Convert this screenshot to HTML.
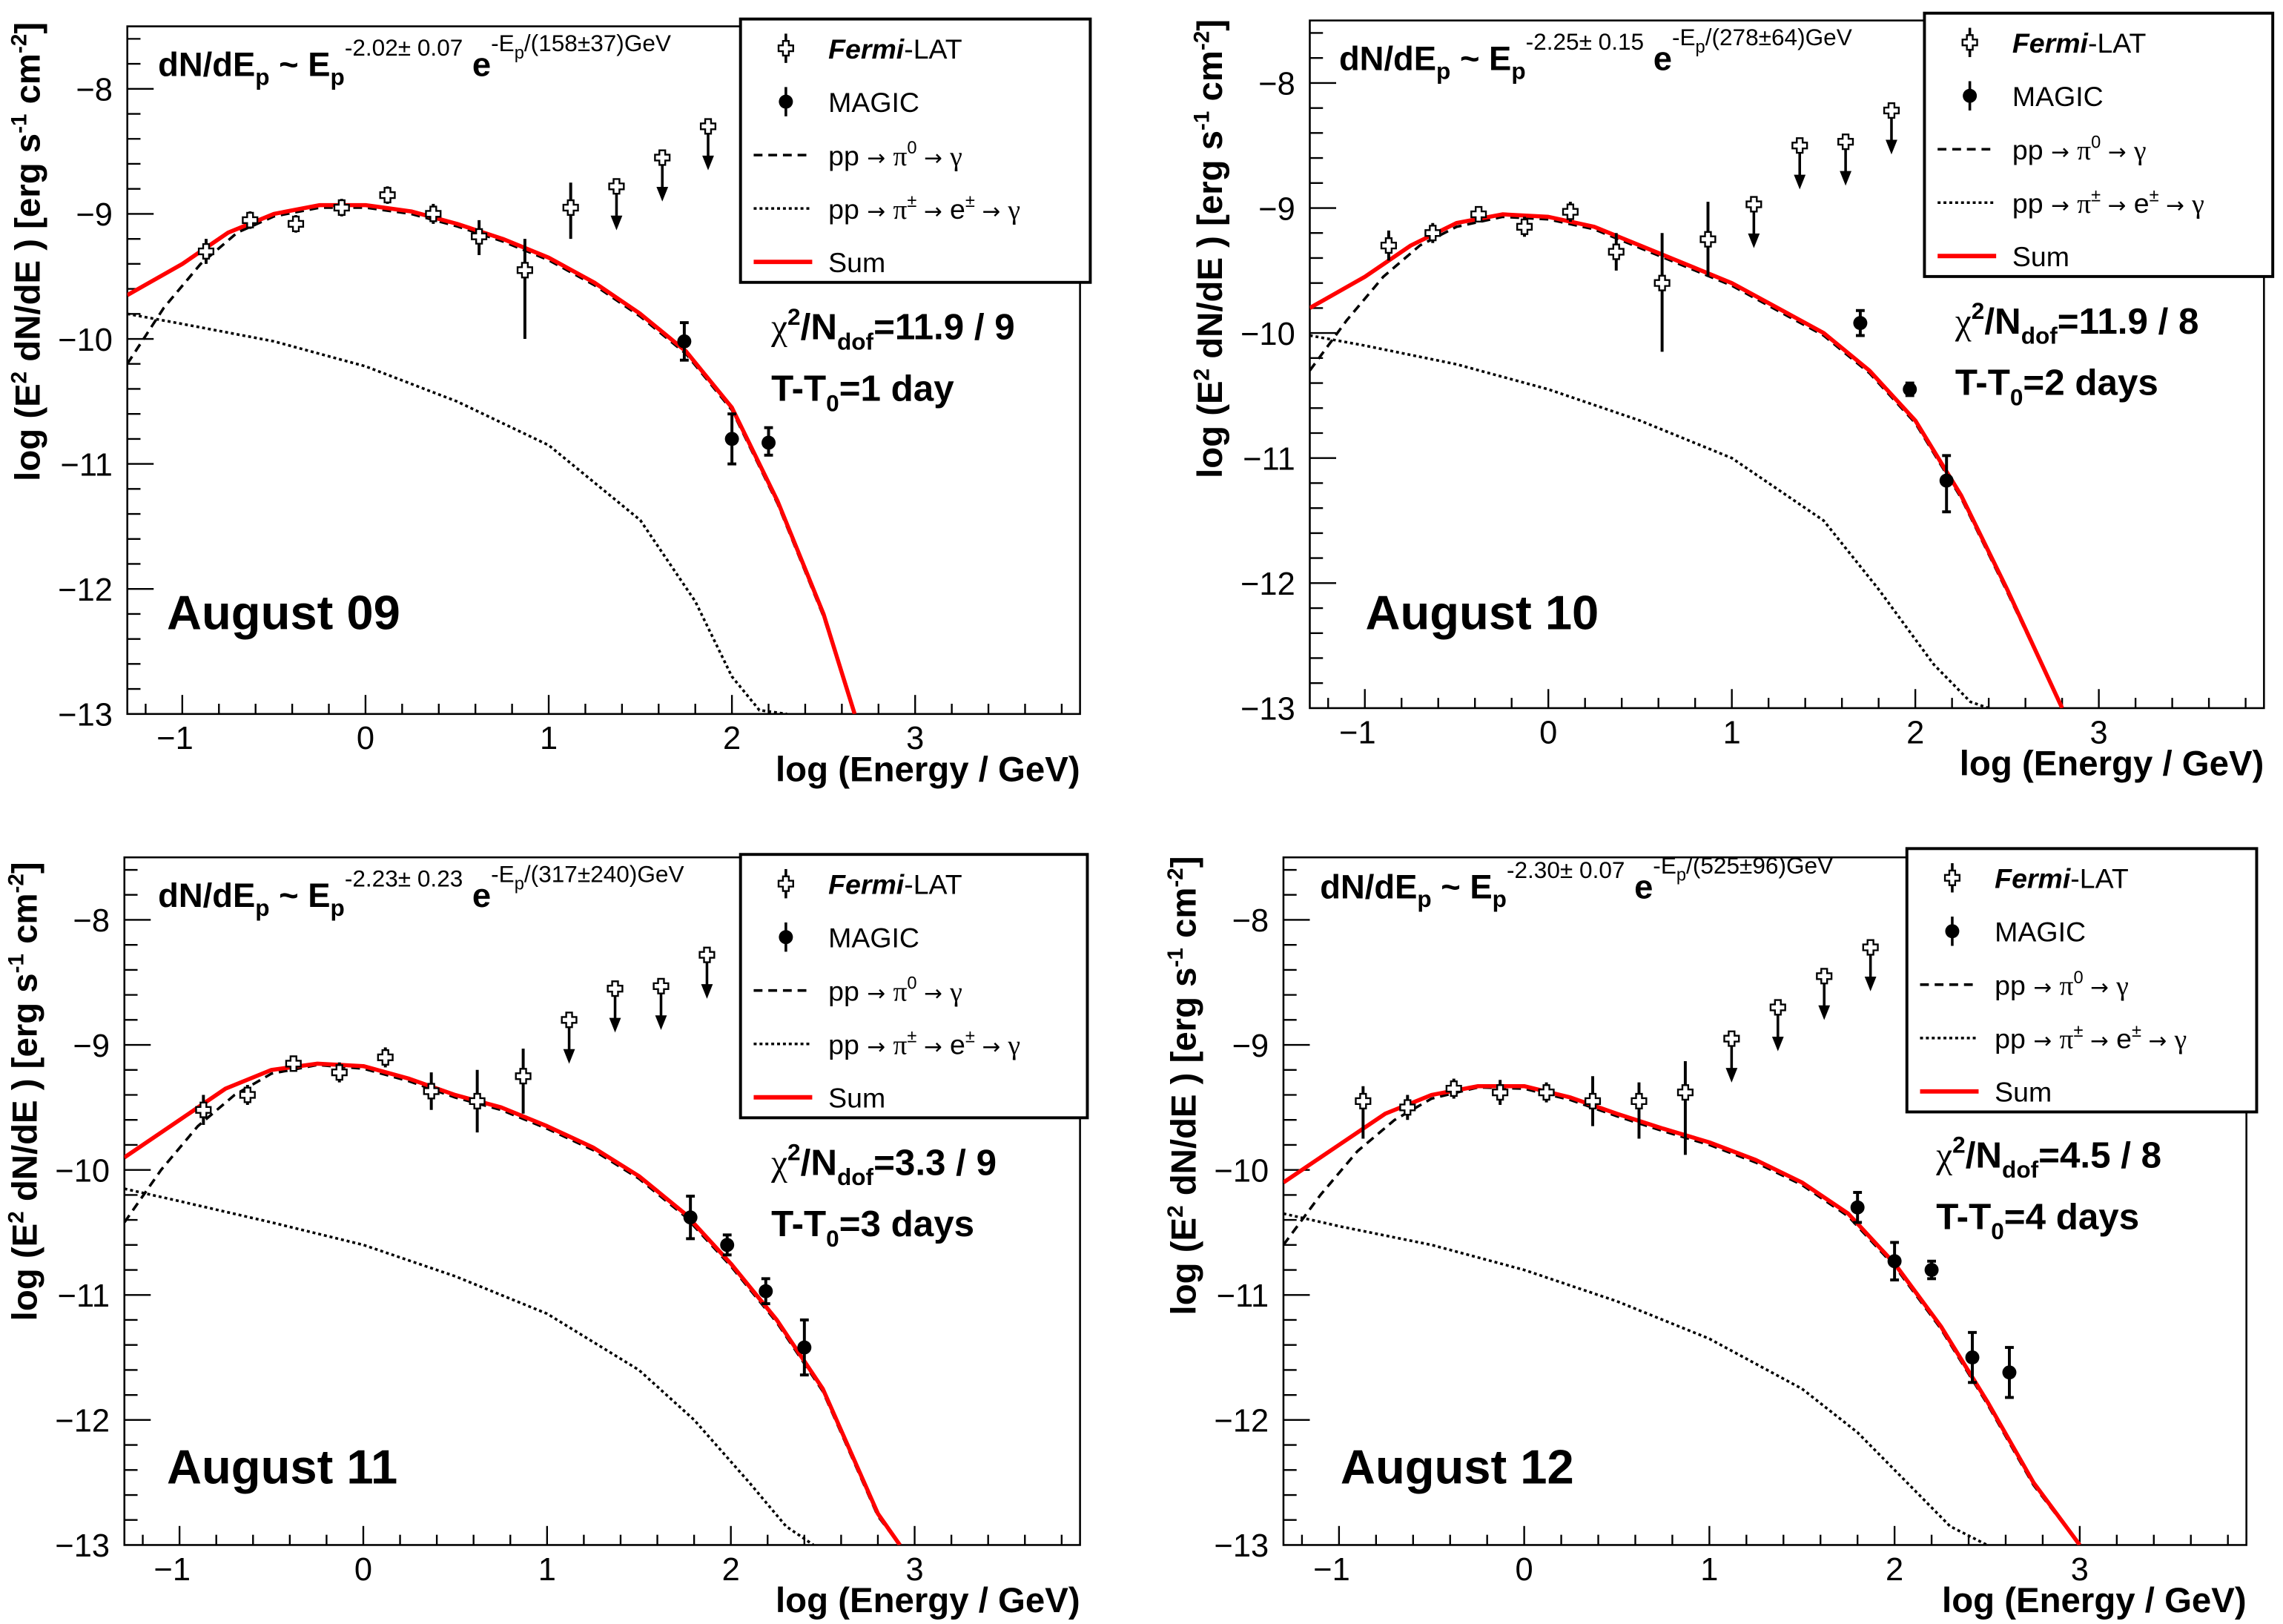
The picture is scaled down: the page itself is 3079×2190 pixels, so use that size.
<!DOCTYPE html>
<html><head><meta charset="utf-8"><style>
html,body{margin:0;padding:0;background:#fff}
svg{display:block}
text{font-family:"Liberation Sans",sans-serif;fill:#000}
</style></head><body>
<svg id="chart" width="3079" height="2190" viewBox="0 0 1560 1110" preserveAspectRatio="none" xmlns="http://www.w3.org/2000/svg"></svg>
<script>
// ---- data (log E [GeV], log E2dN/dE) ----
const panelNames = ["August 09","August 10","August 11","August 12"];
const idxVals = ["-2.02± 0.07","-2.25± 0.15","-2.23± 0.23","-2.30± 0.07"];
const cutVals = ["(158±37)GeV","(278±64)GeV","(317±240)GeV","(525±96)GeV"];
const chiVals = ["=11.9 / 9","=11.9 / 8","=3.3 / 9","=4.5 / 8"];
const dayVals = ["=1 day","=2 days","=3 days","=4 days"];
const xTicks = [-1,0,1,2,3];
const yTicks = [-8,-9,-10,-11,-12,-13];
// fermi points: [x, y, errDown, errUp]
const fermi1 = [[-0.87,-9.3,0.1,0.1],[-0.63,-9.05,0.07,0.07],[-0.38,-9.08,0.07,0.07],[-0.13,-8.95,0.07,0.07],[0.12,-8.85,0.07,0.07],[0.37,-9.0,0.08,0.08],[0.62,-9.18,0.15,0.13],[0.87,-9.45,0.55,0.25],[1.12,-8.95,0.25,0.2]];
const fermi2 = [[-0.87,-9.3,0.12,0.12],[-0.63,-9.2,0.08,0.08],[-0.38,-9.05,0.06,0.06],[-0.13,-9.15,0.08,0.08],[0.12,-9.03,0.08,0.08],[0.37,-9.35,0.15,0.15],[0.62,-9.6,0.55,0.4],[0.87,-9.25,0.3,0.3]];
const fermi3 = [[-0.87,-9.52,0.12,0.12],[-0.63,-9.4,0.08,0.08],[-0.38,-9.15,0.06,0.06],[-0.13,-9.22,0.08,0.08],[0.12,-9.1,0.08,0.08],[0.37,-9.37,0.15,0.15],[0.62,-9.45,0.25,0.25],[0.87,-9.25,0.3,0.22]];
const fermi4 = [[-0.87,-9.45,0.3,0.12],[-0.63,-9.5,0.1,0.1],[-0.38,-9.35,0.08,0.08],[-0.13,-9.38,0.1,0.1],[0.12,-9.38,0.08,0.08],[0.37,-9.45,0.2,0.2],[0.62,-9.45,0.3,0.15],[0.87,-9.38,0.5,0.25]];
// upper limits: [x, y]
const ul1 = [[1.37,-8.78],[1.62,-8.55],[1.87,-8.3]];
const ul2 = [[1.12,-8.97],[1.37,-8.5],[1.62,-8.47],[1.87,-8.22]];
const ul3 = [[1.12,-8.8],[1.37,-8.55],[1.62,-8.53],[1.87,-8.28]];
const ul4 = [[1.12,-8.95],[1.37,-8.7],[1.62,-8.45],[1.87,-8.22]];
// MAGIC: [x, y, errDown, errUp]
const magic1 = [[1.74,-10.02,0.15,0.15],[2.0,-10.8,0.2,0.2],[2.2,-10.83,0.1,0.12]];
const magic2 = [[1.7,-9.92,0.1,0.1],[1.97,-10.45,0.05,0.05],[2.17,-11.18,0.25,0.2]];
const magic3 = [[1.78,-10.38,0.17,0.17],[1.98,-10.6,0.08,0.08],[2.19,-10.97,0.1,0.1],[2.4,-11.42,0.22,0.22]];
const magic4 = [[1.8,-10.3,0.12,0.12],[2.0,-10.73,0.15,0.15],[2.2,-10.8,0.07,0.07],[2.42,-11.5,0.2,0.2],[2.62,-11.62,0.2,0.2]];
// curves: sum
const sum1 = [[-1.3,-9.65],[-1,-9.4],[-0.75,-9.15],[-0.5,-9.0],[-0.25,-8.93],[0,-8.93],[0.25,-8.98],[0.5,-9.08],[0.75,-9.2],[1,-9.35],[1.25,-9.55],[1.5,-9.8],[1.75,-10.1],[2,-10.55],[2.25,-11.3],[2.5,-12.2],[2.67,-13]];
const sum2 = [[-1.3,-9.8],[-1,-9.55],[-0.75,-9.3],[-0.5,-9.12],[-0.25,-9.05],[0,-9.07],[0.25,-9.15],[0.5,-9.3],[0.75,-9.45],[1,-9.6],[1.25,-9.8],[1.5,-10.0],[1.75,-10.3],[2,-10.7],[2.25,-11.3],[2.5,-12.05],[2.8,-13]];
const sum3 = [[-1.3,-9.9],[-1,-9.6],[-0.75,-9.35],[-0.5,-9.2],[-0.25,-9.15],[0,-9.17],[0.25,-9.27],[0.5,-9.4],[0.75,-9.5],[1,-9.65],[1.25,-9.82],[1.5,-10.05],[1.75,-10.35],[2,-10.75],[2.25,-11.2],[2.5,-11.75],[2.8,-12.75],[2.92,-13]];
const sum4 = [[-1.3,-10.1],[-1,-9.8],[-0.75,-9.55],[-0.5,-9.4],[-0.25,-9.33],[0,-9.33],[0.25,-9.42],[0.5,-9.55],[0.75,-9.67],[1,-9.78],[1.25,-9.92],[1.5,-10.1],[1.75,-10.35],[2,-10.75],[2.25,-11.25],[2.5,-11.85],[2.75,-12.5],[3.0,-13]];
// pi0 component
const pi01 = [[-1.3,-10.2],[-1.1,-9.75],[-0.9,-9.4],[-0.7,-9.15],[-0.5,-9.02],[-0.25,-8.95],[0,-8.95],[0.25,-9.0],[0.5,-9.1],[0.75,-9.22],[1,-9.37],[1.25,-9.57],[1.5,-9.82],[1.75,-10.12],[2,-10.57],[2.25,-11.32],[2.5,-12.22],[2.67,-13]];
const pi02 = [[-1.3,-10.3],[-1.1,-9.9],[-0.9,-9.55],[-0.7,-9.3],[-0.5,-9.15],[-0.25,-9.07],[0,-9.09],[0.25,-9.17],[0.5,-9.32],[0.75,-9.47],[1,-9.62],[1.25,-9.82],[1.5,-10.02],[1.75,-10.32],[2,-10.72],[2.25,-11.32],[2.5,-12.07],[2.8,-13]];
const pi03 = [[-1.3,-10.42],[-1.1,-10.0],[-0.9,-9.65],[-0.7,-9.4],[-0.5,-9.23],[-0.25,-9.16],[0,-9.19],[0.25,-9.29],[0.5,-9.42],[0.75,-9.52],[1,-9.67],[1.25,-9.84],[1.5,-10.07],[1.75,-10.37],[2,-10.77],[2.25,-11.22],[2.5,-11.77],[2.8,-12.77],[2.92,-13]];
const pi04 = [[-1.3,-10.6],[-1.1,-10.2],[-0.9,-9.85],[-0.7,-9.6],[-0.5,-9.43],[-0.25,-9.34],[0,-9.35],[0.25,-9.44],[0.5,-9.57],[0.75,-9.69],[1,-9.8],[1.25,-9.94],[1.5,-10.12],[1.75,-10.37],[2,-10.77],[2.25,-11.27],[2.5,-11.87],[2.75,-12.52],[3.0,-13]];
// secondary e± component
const sec1 = [[-1.3,-9.8],[-1,-9.88],[-0.5,-10.02],[0,-10.22],[0.5,-10.5],[1,-10.85],[1.5,-11.45],[1.8,-12.1],[2.0,-12.7],[2.15,-12.97],[2.3,-13.0]];
const sec2 = [[-1.3,-10.02],[-1,-10.1],[-0.5,-10.25],[0,-10.45],[0.5,-10.7],[1,-11.0],[1.5,-11.5],[1.8,-12.05],[2.1,-12.65],[2.3,-12.95],[2.4,-13.0]];
const sec3 = [[-1.3,-10.15],[-1,-10.25],[-0.5,-10.42],[0,-10.6],[0.5,-10.85],[1,-11.15],[1.5,-11.6],[1.8,-12.0],[2.1,-12.5],[2.3,-12.85],[2.45,-13.0]];
const sec4 = [[-1.3,-10.35],[-1,-10.45],[-0.5,-10.6],[0,-10.8],[0.5,-11.05],[1,-11.35],[1.5,-11.75],[1.8,-12.1],[2.1,-12.55],[2.3,-12.85],[2.5,-13.0]];

const fermiAll=[fermi1,fermi2,fermi3,fermi4], ulAll=[ul1,ul2,ul3,ul4], magicAll=[magic1,magic2,magic3,magic4];
const sumAll=[sum1,sum2,sum3,sum4], pi0All=[pi01,pi02,pi03,pi04], secAll=[sec1,sec2,sec3,sec4];

const frames=[{l:87,t:18,r:738,b:488,lg:[506,13,745,193],chi:[527,232],form:[108,52],aug:[114,430],yt:172},
              {l:895,t:14,r:1547,b:484,lg:[1315,9,1553,189],chi:[1336,228],form:[915,48],aug:[933,430],yt:170},
              {l:85,t:586,r:738,b:1056,lg:[506,584,743,764],chi:[527,803],form:[108,620],aug:[114,1014],yt:746},
              {l:877,t:586,r:1535,b:1056,lg:[1303,580,1542,760],chi:[1323,798],form:[902,614],aug:[916,1014],yt:742}];
const XMIN=-1.3,XMAX=3.9,YMIN=-13,YMAX=-7.5;
const svg=document.getElementById('chart');
const NS='http://www.w3.org/2000/svg';
function mk(tag,attrs,parent){const e=document.createElementNS(NS,tag);for(const k in attrs)e.setAttribute(k,attrs[k]);(parent||svg).appendChild(e);return e;}

frames.forEach((f,p)=>{
  const sx=v=>f.l+(v-XMIN)/(XMAX-XMIN)*(f.r-f.l);
  const sy=v=>f.b-(v-YMIN)/(YMAX-YMIN)*(f.b-f.t);
  const g=mk('g',{});
  
  
  const clipId='clip'+p;
  const cp=mk('clipPath',{id:clipId},g);mk('rect',{x:f.l,y:f.t,width:f.r-f.l,height:f.b-f.t},cp);
  const fr=mk('rect',{x:f.l,y:f.t,width:f.r-f.l,height:f.b-f.t,fill:'none',stroke:'#000','stroke-width':1.3},g);
  
  
  for(let v=-1.2;v<=3.81;v+=0.2){const x=sx(Math.round(v*10)/10);const major=Math.abs(Math.round(v*10)/10-Math.round(v))<1e-6;
    mk('line',{x1:x,x2:x,y1:f.b,y2:f.b-(major?13:7),stroke:'#000','stroke-width':1.2},g);}
  for(let v=-12.8;v<=-7.6;v+=0.2){const y=sy(Math.round(v*10)/10);const major=Math.abs(Math.round(v*10)/10-Math.round(v))<1e-6;
    mk('line',{x1:f.l,x2:f.l+(major?18:9),y1:y,y2:y,stroke:'#000','stroke-width':1.2},g);}
  xTicks.forEach(v=>{const t=mk('text',{x:sx(v)-(v<0?5:0),y:f.b+24,'font-size':22,'text-anchor':'middle'},g);t.textContent=(v<0?'\u2212':'')+Math.abs(v);
    
    });
  yTicks.forEach(v=>{const t=mk('text',{x:f.l-10,y:sy(v)+8,'font-size':22,'text-anchor':'end'},g);t.textContent='\u2212'+Math.abs(v);
    
    });
  const xt=mk('text',{x:f.r,y:f.b+46,'font-size':24,'font-weight':'bold','text-anchor':'end'},g);
  xt.textContent='log (Energy / GeV)';
  
  
  const yx=f.l-60;
  const yt=mk('text',{x:yx,y:f.yt,'font-size':24,'font-weight':'bold','text-anchor':'middle',transform:`rotate(-90 ${yx} ${f.yt})`},g);
  yt.innerHTML='log (E<tspan dy="-9" font-size="15">2</tspan><tspan dy="9"> dN/dE ) [erg s</tspan><tspan dy="-9" font-size="15">-1</tspan><tspan dy="9"> cm</tspan><tspan dy="-9" font-size="15">-2</tspan><tspan dy="9">]</tspan>';
  
  
  const cg=mk('g',{'clip-path':`url(#${clipId})`},g);
  const path=arr=>arr.map((d,i)=>(i?'L':'M')+sx(d[0]).toFixed(1)+' '+sy(d[1]).toFixed(1)).join(' ');
  const c1=mk('path',{d:path(secAll[p]),fill:'none',stroke:'#000','stroke-width':1.8,'stroke-dasharray':'2 2'},cg);
  
  
  const c2=mk('path',{d:path(pi0All[p]),fill:'none',stroke:'#000','stroke-width':1.8,'stroke-dasharray':'6 4'},cg);
  
  
  const c3=mk('path',{d:path(sumAll[p]),fill:'none',stroke:'#ff0000','stroke-width':2.8,'stroke-linejoin':'round'},cg);
  
  
  fermiAll[p].forEach(d=>{const x=sx(d[0]),y=sy(d[1]);const pg=mk('g',{},g);
    
    
    mk('line',{x1:x,x2:x,y1:sy(d[1]-d[2]),y2:sy(d[1]+d[3]),stroke:'#000','stroke-width':2},pg);
    mk('path',{d:`M${x-2} ${y-5}h4v3h3v4h-3v3h-4v-3h-3v-4h3z`,fill:'#fff',stroke:'#000','stroke-width':1.2},pg);});
  ulAll[p].forEach(d=>{const x=sx(d[0]),y=sy(d[1]);const pg=mk('g',{},g);
    
    
    mk('line',{x1:x,x2:x,y1:y,y2:y+26,stroke:'#000','stroke-width':1.8},pg);
    mk('path',{d:`M${x-4} ${y+20}L${x+4} ${y+20}L${x} ${y+30}z`,fill:'#000'},pg);
    mk('path',{d:`M${x-2} ${y-5}h4v3h3v4h-3v3h-4v-3h-3v-4h3z`,fill:'#fff',stroke:'#000','stroke-width':1.2},pg);});
  magicAll[p].forEach(d=>{const x=sx(d[0]),y=sy(d[1]);const pg=mk('g',{},g);
    
    
    mk('line',{x1:x,x2:x,y1:sy(d[1]-d[2]),y2:sy(d[1]+d[3]),stroke:'#000','stroke-width':2},pg);
    mk('line',{x1:x-3,x2:x+3,y1:sy(d[1]-d[2]),y2:sy(d[1]-d[2]),stroke:'#000','stroke-width':2},pg);
    mk('line',{x1:x-3,x2:x+3,y1:sy(d[1]+d[3]),y2:sy(d[1]+d[3]),stroke:'#000','stroke-width':2},pg);
    mk('circle',{cx:x,cy:y,r:4.8,fill:'#000'},pg);});
  const ft=mk('text',{x:f.form[0],y:f.form[1],'font-size':23,'font-weight':'bold'},g);
  ft.innerHTML=`dN/dE<tspan dy="6" font-size="16">p</tspan><tspan dy="-6"> ~ E</tspan><tspan dy="6" font-size="16">p</tspan><tspan dy="-20" font-size="16" font-weight="normal">${idxVals[p]}</tspan><tspan dy="14"> e</tspan><tspan dy="-17" font-size="16" font-weight="normal">-E</tspan><tspan dy="5" font-size="12" font-weight="normal">p</tspan><tspan dy="-5" font-size="16" font-weight="normal">/${cutVals[p]}</tspan>`;
  
  
  const at=mk('text',{x:f.aug[0],y:f.aug[1],'font-size':33,'font-weight':'bold','font-family':'DejaVu Sans, sans-serif'},g);
  at.textContent=panelNames[p];
  
  
  const ch=mk('text',{x:f.chi[0],y:f.chi[1],'font-size':25,'font-weight':'bold'},g);
  ch.innerHTML=`<tspan font-family="Liberation Serif" font-weight="normal">χ</tspan><tspan dy="-10" font-size="16">2</tspan><tspan dy="10">/N</tspan><tspan dy="7" font-size="16">dof</tspan><tspan dy="-7">${chiVals[p]}</tspan>`;
  
  
  const dt=mk('text',{x:f.chi[0],y:f.chi[1]+42,'font-size':25,'font-weight':'bold'},g);
  dt.innerHTML=`T-T<tspan dy="7" font-size="16">0</tspan><tspan dy="-7">${dayVals[p]}</tspan>`;
  
  
  const L=f.lg;const lg=mk('g',{},g);
  
  
  mk('rect',{x:L[0],y:L[1],width:L[2]-L[0],height:L[3]-L[1],fill:'#fff',stroke:'#000','stroke-width':2},lg);
  const ey=k=>L[1]+20+k*36.5, sxL=L[0]+31, tx=L[0]+60;
  mk('line',{x1:sxL,x2:sxL,y1:ey(0)-10,y2:ey(0)+10,stroke:'#000','stroke-width':1.8},lg);
  mk('path',{d:`M${sxL-2} ${ey(0)-5}h4v3h3v4h-3v3h-4v-3h-3v-4h3z`,fill:'#fff',stroke:'#000','stroke-width':1.2},lg);
  let t=mk('text',{x:tx,y:ey(0)+7,'font-size':19},lg);t.innerHTML='<tspan font-style="italic" font-weight="bold">Fermi</tspan>-LAT';
  mk('line',{x1:sxL,x2:sxL,y1:ey(1)-10,y2:ey(1)+10,stroke:'#000','stroke-width':1.8},lg);
  mk('circle',{cx:sxL,cy:ey(1),r:4.8,fill:'#000'},lg);
  t=mk('text',{x:tx,y:ey(1)+7,'font-size':19},lg);t.textContent='MAGIC';
  mk('line',{x1:L[0]+9,x2:L[0]+49,y1:ey(2),y2:ey(2),stroke:'#000','stroke-width':1.8,'stroke-dasharray':'6 4'},lg);
  t=mk('text',{x:tx,y:ey(2)+7,'font-size':19},lg);t.innerHTML='pp <tspan font-family="DejaVu Sans" font-size="15">→</tspan>   <tspan font-family="Liberation Serif">π</tspan><tspan dy="-8" font-size="12">0</tspan><tspan dy="8" font-family="DejaVu Sans" font-size="15">  →</tspan> <tspan font-family="Liberation Serif">γ</tspan>';
  mk('line',{x1:L[0]+9,x2:L[0]+49,y1:ey(3),y2:ey(3),stroke:'#000','stroke-width':1.8,'stroke-dasharray':'2 2'},lg);
  t=mk('text',{x:tx,y:ey(3)+7,'font-size':19},lg);t.innerHTML='pp <tspan font-family="DejaVu Sans" font-size="15">→</tspan>   <tspan font-family="Liberation Serif">π</tspan><tspan dy="-8" font-size="12">±</tspan><tspan dy="8" font-family="DejaVu Sans" font-size="15"> →</tspan> e<tspan dy="-8" font-size="12">±</tspan><tspan dy="8" font-family="DejaVu Sans" font-size="15">  →</tspan> <tspan font-family="Liberation Serif">γ</tspan>';
  mk('line',{x1:L[0]+9,x2:L[0]+49,y1:ey(4),y2:ey(4),stroke:'#ff0000','stroke-width':3},lg);
  t=mk('text',{x:tx,y:ey(4)+7,'font-size':19},lg);t.textContent='Sum';
});
</script>
</body></html>
